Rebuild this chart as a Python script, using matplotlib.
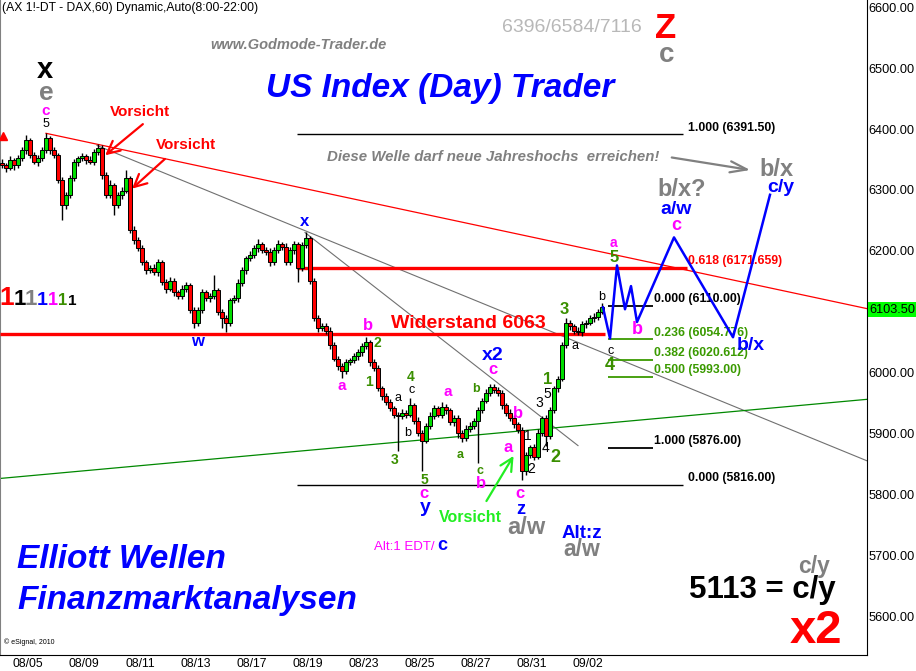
import matplotlib
matplotlib.use("Agg")
import matplotlib.pyplot as plt
import matplotlib.transforms as mtransforms
import numpy as np

plt.rcParams['font.family'] = ['Liberation Sans', 'DejaVu Sans']

# ==============================
# DATA
# ==============================
# hourly closes, DAX future, 08/05 .. 09/02
closes = [
    6341, 6336, 6349, 6341, 6352, 6365, 6382, 6357, 6346, 6352,
    6365, 6385, 6365, 6357, 6316, 6275, 6291, 6319, 6346, 6352,
    6355, 6349, 6346, 6362, 6369, 6324, 6291, 6308, 6275, 6291,
    6299, 6319, 6234, 6217, 6204, 6181, 6168, 6171, 6165, 6181,
    6148, 6138, 6151, 6132, 6125, 6138, 6143, 6102, 6082, 6102,
    6132, 6122, 6125, 6135, 6099, 6089, 6082, 6119, 6122, 6147,
    6168, 6188, 6193, 6204, 6211, 6201, 6198, 6181, 6201, 6211,
    6207, 6181, 6201, 6211, 6171, 6209, 6221, 6151, 6089, 6073,
    6077, 6069, 6045, 6023, 6010, 6003, 6017, 6020, 6027, 6033,
    6043, 6050, 6017, 6007, 5974, 5961, 5951, 5941, 5931, 5929,
    5934, 5931, 5946, 5921, 5901, 5888, 5913, 5929, 5941, 5931,
    5944, 5938, 5918, 5925, 5901, 5892, 5908, 5913, 5921, 5938,
    5954, 5967, 5977, 5971, 5966, 5946, 5934, 5925, 5915, 5905,
    5839, 5864, 5877, 5862, 5901, 5925, 5895, 5938, 5974, 5990,
    6045, 6082, 6076, 6069, 6066, 6079, 6082, 6089, 6092, 6100,
    6107,
]
first_open = 6345

# wick lengths above / below the body, in index points
wick_up = [
    5, 4, 6, 4, 5, 6, 8, 4, 5, 6,
    5, 8, 4, 5, 4, 6, 5, 6, 5, 4,
    5, 4, 6, 5, 6, 4, 5, 8, 4, 6,
    5, 13, 4, 6, 5, 6, 4, 5, 8, 6,
    4, 5, 6, 5, 4, 6, 5, 4, 6, 5,
    6, 4, 5, 25, 4, 5, 6, 4, 5, 6,
    5, 4, 6, 5, 8, 4, 5, 6, 5, 6,
    4, 5, 6, 5, 4, 6, 10, 4, 5, 6,
    5, 4, 6, 5, 4, 5, 6, 4, 5, 6,
    5, 8, 4, 6, 5, 4, 6, 5, 4, 5,
    6, 5, 13, 4, 6, 5, 4, 6, 5, 4,
    8, 5, 4, 6, 5, 4, 6, 5, 4, 6,
    5, 6, 5, 4, 6, 5, 4, 6, 5, 4,
    5, 6, 4, 5, 6, 4, 5, 6, 4, 5,
    6, 7, 5, 4, 6, 5, 4, 6, 5, 4,
    7,
]
wick_dn = [
    5, 6, 4, 8, 5, 4, 6, 5, 4, 6,
    5, 4, 6, 5, 4, 25, 6, 5, 4, 6,
    5, 6, 4, 5, 4, 6, 5, 4, 16, 5,
    6, 4, 5, 6, 4, 5, 6, 4, 5, 6,
    5, 8, 4, 6, 5, 4, 6, 5, 8, 6,
    4, 5, 6, 5, 4, 16, 16, 5, 4, 6,
    5, 6, 4, 5, 6, 4, 5, 6, 4, 5,
    6, 4, 5, 6, 23, 5, 4, 6, 5, 6,
    4, 5, 6, 4, 5, 12, 6, 5, 4, 6,
    5, 4, 6, 5, 4, 6, 5, 4, 6, 58,
    5, 6, 4, 5, 6, 50, 4, 5, 6, 4,
    5, 6, 4, 5, 8, 6, 4, 5, 6, 70,
    5, 4, 6, 5, 4, 6, 5, 4, 6, 5,
    16, 8, 5, 6, 4, 5, 15, 4, 5, 6,
    4, 5, 6, 5, 4, 6, 5, 4, 6, 5,
    4,
]

date_labels = ["08/05", "08/09", "08/11", "08/13", "08/17", "08/19",
               "08/23", "08/25", "08/27", "08/31", "09/02"]
date_pos = [6.5, 20.5, 34.5, 48.5, 62.5, 76.5, 90.5, 104.5, 118.5, 132.5, 146.5]

# 6100 is hidden behind the last-price box in the original
price_ticks = [5600, 5700, 5800, 5900, 6000, 6200, 6300, 6400, 6500, 6600]
last_price = 6103.50
resistance = 6063

# Fibonacci levels
fib_long = [(6391.50, "1.000 (6391.50)"), (5816.00, "0.000 (5816.00)")]
fib_red = 6171.659
fib_short_levels = [6110.00, 6054.776, 6020.612, 5993.00, 5876.00]
fib_short_text = ["0.000 (6110.00)", "0.236 (6054.776)", "0.382 (6020.612)",
                  "0.500 (5993.00)", "1.000 (5876.00)"]
fib_short_green = [False, True, True, True, False]

# trend lines (bar index, price)
red_trend = ([11, 216.25], [6393, 6105])
gray_trend1 = ([23.75, 216.25], [6373, 5855])
gray_trend2 = ([75.75, 144], [6230, 5880])
green_trend = ([-0.5, 216.25], [5826, 5956])

# projected wave path
proj_x = [150.25, 152, 153.75, 155.75, 157.25, 158.75, 168, 182.75, 192]
proj_y = [6107, 6056, 6176, 6104, 6142, 6083, 6222, 6058, 6292]

# ==============================
# STYLE
# ==============================
K = "black"
R = "#ff0000"
GR = "#808080"
BL = "#0000ff"
MG = "#ff00ff"
OL = "#3a8f00"
LIME = "#22ee22"
FIBG = "#3a9a00"
W, H = 916, 671

fig = plt.figure(figsize=(W / 100, H / 100), dpi=100)
ax = fig.add_axes([0, 16 / H, 867 / W, 655 / H])
ax.set_xlim(-0.5, 216.25)
ax.set_ylim(5536, 6612)

# pixel transform for free text
pix = mtransforms.Affine2D().scale(1 / W, -1 / H).translate(0, 1) + fig.transFigure

# ---- candles
c = np.array(closes, dtype=float)
o = np.array([first_open] + closes[:-1], dtype=float)
x = np.arange(len(c))
hi = np.maximum(o, c) + np.array(wick_up)
lo = np.minimum(o, c) - np.array(wick_dn)
body = np.where(np.abs(c - o) < 1.5, 1.5, c - o)
cols = np.where(c >= o, "#00dd00", R)
ax.vlines(x, lo, hi, color=K, lw=1.0, zorder=4)
ax.bar(x, body, bottom=o, width=0.85, color=cols, edgecolor=K, linewidth=0.7, zorder=5)

# ---- horizontal levels
ax.hlines(resistance, -0.5, 150.75, color=R, lw=2.4, zorder=3)
ax.hlines(fib_red, 73.75, 171.25, color=R, lw=2.4, zorder=3)
for lvl, txt in fib_long:
    ax.hlines(lvl, 73.75, 170.25, color=K, lw=1.0, zorder=3)
    ax.text(171.5, lvl + 1, txt, fontsize=8.8, fontweight="bold", color=K, va="bottom", ha="left")
ax.text(171.5, fib_red + 1, "0.618 (6171.659)", fontsize=8.8, fontweight="bold", color=R,
        va="bottom", ha="left")
for lvl, txt, g in zip(fib_short_levels, fib_short_text, fib_short_green):
    col = FIBG if g else K
    ax.hlines(lvl, 151.5, 162.75, color=col, lw=1.3, zorder=3)
    ax.text(163, lvl + 1, txt, fontsize=8.8, fontweight="bold", color=col, va="bottom", ha="left")

# ---- trend lines
ax.plot(*red_trend, color=R, lw=0.9, zorder=2)
ax.plot(*gray_trend1, color="#707070", lw=0.8, zorder=2)
ax.plot(*gray_trend2, color="#707070", lw=0.8, zorder=2)
ax.plot(*green_trend, color="#008800", lw=0.9, zorder=2)

# ---- projection
ax.plot(proj_x, proj_y, color=BL, lw=1.8, zorder=6)

# ---- arrows
arr = dict(arrowstyle="->,head_length=0.9,head_width=0.45", lw=1.6)
ax.annotate("", xy=(25.25, 6354), xytext=(35.75, 6411), arrowprops=dict(color=R, **arr))
ax.annotate("", xy=(32, 6299), xytext=(41.25, 6354), arrowprops=dict(color=R, **arr))
ax.annotate("", xy=(128.25, 5867), xytext=(120.75, 5785), arrowprops=dict(color=LIME, **arr))
ax.annotate("", xy=(187.75, 6332), xytext=(166.75, 6354),
            arrowprops=dict(color=GR, arrowstyle="->,head_length=1.2,head_width=0.4", lw=1.6))
ax.plot(0.3, 6388, marker="^", color=R, ms=6, clip_on=False, zorder=6)

# ---- axes styling
ax.yaxis.tick_right()
ax.set_yticks(price_ticks, [f"{p:.2f}" for p in price_ticks])
ax.set_xticks(date_pos, date_labels)
ax.tick_params(axis="y", length=0, pad=1.2, labelsize=9.2)
ax.tick_params(axis="x", length=0, pad=2.5, labelsize=8.8)
ax.spines["top"].set_visible(False)
ax.spines["left"].set_color("#808080")
ax.spines["right"].set_color(K)
ax.spines["bottom"].set_color(K)
ax.text(1.0 + 2 / 867, last_price, f"{last_price:.2f}", fontsize=9.2, color=K,
        va="center", ha="left", transform=ax.get_yaxis_transform(), clip_on=False,
        bbox=dict(boxstyle="square,pad=0.1", fc="#00ff00", ec="none"))

# ---- wave labels (pixel positions)
B, N = "bold", "normal"
labels = [
    ("x", 45, 70, K, 21, B), ("e", 46, 93, GR, 19, B), ("c", 46, 111, MG, 11, B),
    ("5", 46, 124, K, 9, N),
    ("Vorsicht", 140, 112, R, 11, B), ("Vorsicht", 186, 145, R, 11, B),
    ("w", 197, 341, BL, 12, B), ("x", 305, 221, BL, 12, B),
    ("b", 368, 325, MG, 12, B), ("2", 377, 343, OL, 10, B), ("a", 342, 386, MG, 11, B),
    ("1", 369, 382, OL, 10, B), ("4", 411, 377, OL, 10, B), ("c", 412, 390, K, 9, N),
    ("a", 398, 398, K, 9, N), ("b", 408, 433, K, 9, N), ("3", 395, 460, OL, 10, B),
    ("5", 424, 480, OL, 10, B), ("c", 424, 494, MG, 12, B), ("y", 425, 508, BL, 14, B),
    ("a", 448, 392, MG, 11, B), ("a", 460, 455, OL, 9, B), ("b", 476, 389, OL, 9, B),
    ("c", 480, 471, OL, 9, B), ("b", 481, 484, MG, 12, B),
    ("x2", 493, 355, BL, 14, B), ("c", 493, 370, MG, 12, B),
    ("b", 518, 413, MG, 12, B), ("a", 508, 447, MG, 12, B),
    ("1", 528, 436, K, 10, N), ("2", 531, 469, K, 10, N), ("3", 539, 403, K, 10, N),
    ("5", 547, 394, K, 10, N), ("1", 548, 380, OL, 12, B), ("4", 546, 448, K, 10, N),
    ("2", 555, 457, OL, 13, B), ("3", 564, 310, OL, 12, B), ("a", 575, 346, K, 9, N),
    ("b", 602, 297, K, 9, N), ("a", 613, 243, MG, 10, B), ("5", 614, 257, OL, 12, B),
    ("c", 611, 351, K, 9, N), ("4", 610, 366, OL, 13, B), ("b", 637, 330, MG, 13, B),
    ("b/x", 751, 345, BL, 14, B),
    ("b/x?", 682, 189, GR, 17, B), ("a/w", 676, 210, BL, 14, B), ("c", 676, 226, MG, 13, B),
    ("b/x", 777, 170, GR, 17, B), ("c/y", 781, 188, BL, 14, B),
    ("c", 520, 493, MG, 12, B), ("z", 521, 509, BL, 13, B), ("a/w", 526, 527, GR, 17, B),
    ("Alt:z", 582, 533, BL, 13.5, B), ("a/w", 582, 550, GR, 16.5, B),
    ("Alt:1 EDT/", 404, 547, MG, 9.5, N), ("c", 442, 546, BL, 13, B),
    ("Vorsicht", 470, 517, LIME, 11.5, B),
    ("Widerstand 6063", 468, 323, R, 14, B),
]
for t, px, py, col, fs, fw in labels:
    fig.text(px, py, t, transform=pix, color=col, fontsize=fs, fontweight=fw,
             ha="center", va="center", zorder=10)

# coloured "1" row
ones = [(7, R, 19), (20, K, 16), (31, GR, 16), (42, BL, 14), (52.5, MG, 13), (62.5, OL, 12), (72, K, 11)]
for px, col, fs in ones:
    fig.text(px, 305, "1", transform=pix, color=col, fontsize=fs, fontweight=B,
             ha="center", va="baseline")

# header / footer texts
fig.text(2, 8, "(AX 1!-DT - DAX,60) Dynamic,Auto(8:00-22:00)", transform=pix,
         fontsize=8.7, color=K, ha="left", va="center")
fig.text(298, 45, "www.Godmode-Trader.de", transform=pix, fontsize=10.5, color=GR,
         fontweight=B, style="italic", ha="center", va="center")
fig.text(572, 27, "6396/6584/7116", transform=pix, fontsize=14, color="#b8b8b8",
         ha="center", va="center")
fig.text(666, 29, "Z", transform=pix, fontsize=25, color=R, fontweight=B, ha="center", va="center")
fig.text(667, 55, "c", transform=pix, fontsize=20, color=GR, fontweight=B, ha="center", va="center")
fig.text(440, 88, "US Index (Day) Trader", transform=pix, fontsize=24, color=BL,
         fontweight=B, style="italic", ha="center", va="center")
fig.text(327, 157, "Diese Welle darf neue Jahreshochs  erreichen!", transform=pix, fontsize=10.8,
         color=GR, fontweight=B, style="italic", ha="left", va="center")
fig.text(17, 560, "Elliott Wellen", transform=pix, fontsize=24, color=BL,
         fontweight=B, style="italic", ha="left", va="center")
fig.text(17, 601, "Finanzmarktanalysen", transform=pix, fontsize=24, color=BL,
         fontweight=B, style="italic", ha="left", va="center")
fig.text(762, 590, "5113 = c/y", transform=pix, fontsize=22.5, color=K, fontweight=B,
         ha="center", va="center")
fig.text(814, 566, "c/y", transform=pix, fontsize=16.5, color=GR, fontweight=B,
         ha="center", va="center")
fig.text(816, 631, "x2", transform=pix, fontsize=34, color=R, fontweight=B,
         ha="center", va="center")
fig.text(4, 642, "\u00a9 eSignal, 2010", transform=pix, fontsize=5, color=K,
         ha="left", va="center")

fig.savefig("out.png", dpi=100)
